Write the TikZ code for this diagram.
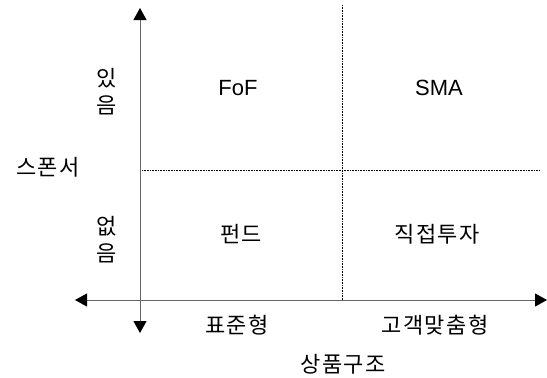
\documentclass[tikz,border=0pt]{standalone}
\usepackage{fontspec}
\setmainfont{Liberation Sans}
\newfontfamily\kr{Noto Sans CJK KR}
\usetikzlibrary{arrows.meta}
\tikzset{
  axis/.style={draw=black!60, line width=1pt, {Triangle[length=12pt,width=13pt,color=black]}-{Triangle[length=12pt,width=13pt,color=black]}},
  grid/.style={draw=black, line width=0.6pt, densely dotted},
  lbl/.style={inner sep=0pt, font=\fontsize{22}{24}\selectfont\kr, text=black},
  lat/.style={inner sep=0pt, font=\fontsize{22}{24}\selectfont, text=black}
}
\newcommand{\gp}{\hspace{1.5pt}}
\begin{document}
\begin{tikzpicture}[x=1pt,y=-1pt]
\useasboundingbox (0,0) rectangle (547,378);
\coordinate (vtop) at (140,8);
\coordinate (vbot) at (140,333);
\coordinate (hl) at (75,300);
\coordinate (hr) at (547,300);
\coordinate (dtop) at (342,5);
\coordinate (dbot) at (342,300);
\coordinate (dl) at (142,170);
\coordinate (dr) at (540,170);
\draw[grid] (dtop) -- (dbot);
\draw[grid] (dl) -- (dr);
\draw[axis] (vtop) -- (vbot);
\draw[axis] (hl) -- (hr);
\node[lbl, align=center] (yes) at (107,92) {있\\[3pt]음};
\node[lbl, align=center] (no) at (107,240) {없\\[3pt]음};
\node[lbl] (sponsor) at (48,167) {스\gp 폰\gp 서};
\node[lat] (fof) at (238,88) {FoF};
\node[lat] (sma) at (439,88) {SMA};
\node[lbl] (fund) at (241,234) {펀\gp 드};
\node[lbl] (direct) at (437,234) {직\gp 접\gp 투\gp 자};
\node[lbl] (std) at (237,325) {표\gp 준\gp 형};
\node[lbl] (cust) at (435,325) {고\gp 객\gp 맞\gp 춤\gp 형};
\node[lbl] (prod) at (343,364) {상\gp 품\gp 구\gp 조};
\end{tikzpicture}
\end{document}
